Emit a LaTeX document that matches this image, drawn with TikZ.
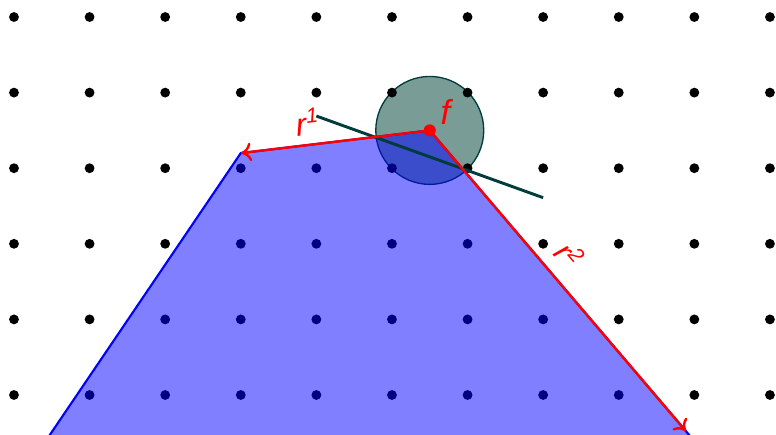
\documentclass[tikz,border=0pt]{standalone}
\usepackage{fontspec}
\setmainfont{Liberation Sans}
\usepackage{tikz}
\usetikzlibrary{arrows.meta, calc}

\definecolor{ballfill}{RGB}{122,156,151}
\definecolor{ballline}{RGB}{0,60,60}

\begin{document}
\begin{tikzpicture}[
				>={To[length=4pt,width=7pt]},
				gridpt/.style={fill=black, circle, inner sep=0pt, minimum size=1.3mm},
				region/.style={fill=blue, fill opacity=0.5, draw=blue, draw opacity=1, line width=0.8pt},
				ball/.style={fill=ballfill, draw=ballline, line width=0.5pt},
				cut/.style={draw=ballline, line width=1.1pt},
				ray/.style={->, draw=red, line width=0.9pt},
				lbl/.style={text=red, font=\fontsize{12pt}{14pt}\selectfont}
				]
				
				\useasboundingbox (-0.185,-0.516) rectangle (10.08,5.225);
				\clip (-0.185,-0.516) rectangle (10.08,5.225);
				
				% Puntos clave
				\coordinate (f)  at (5.5,3.5);
				\coordinate (v1) at (3,3.2);
				\coordinate (v2) at (8.89,-0.48);
				\coordinate (w1) at ($(v1)+1.3*(-2.5,-3.69)$);
				\coordinate (w2) at ($(f)+1.3*(3.39,-3.98)$);
				\coordinate (c1) at (4.0,3.69);
				\coordinate (c2) at (7.0,2.61);
				
				% Bola
				\draw[ball] (f) circle (0.714);
				
				% Rejilla
				\foreach \x in {0,...,10}
				\foreach \y in {0,...,5}
				\node[gridpt] (p\x\y) at (\x,\y) {};
				
				% Poliedro
				\path[region] (w1) -- (v1) -- (f) -- (w2) -- cycle;
				
				% Corte
				\draw[cut] (c1) -- (c2);
				
				% Rayos
				\draw[ray] (f) -- (v1)
				node[lbl, pos=0.63, sloped, above] {\textit{r\textsuperscript{1}}};
				\draw[ray] (f) -- (v2)
				node[lbl, pos=0.47, sloped, above, yshift=1pt] {\textit{r\textsuperscript{2}}};
				
				% Punto f
				\node[fill=red, circle, inner sep=0pt, minimum size=1.6mm] (fdot) at (f) {};
				\node[lbl, font=\fontsize{13pt}{15pt}\selectfont, anchor=south west, inner sep=1pt] (flbl) at ($(f)+(0.1,0.03)$) {\textit{f}};
				
			\end{tikzpicture}
\end{document}
